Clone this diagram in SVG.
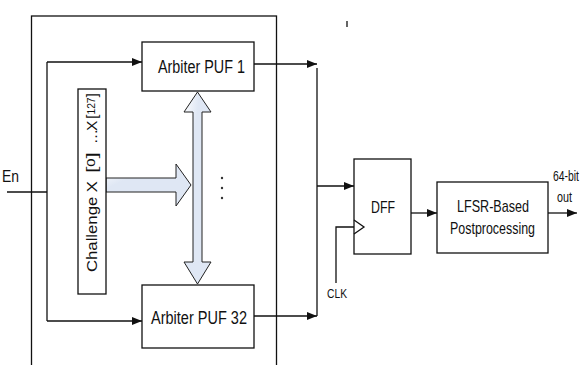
<svg xmlns="http://www.w3.org/2000/svg" width="587" height="365" viewBox="0 0 587 365">
<defs>
<style>
.box{fill:#fff;stroke:#111;stroke-width:1.3}
.ln{fill:none;stroke:#111;stroke-width:1.3}
.arr{marker-end:url(#ah)}
.t{font-family:"Liberation Sans",Arial,sans-serif;fill:#111}
.big{fill:url(#bg);stroke:#222;stroke-width:1}
</style>
<marker id="ah" markerUnits="userSpaceOnUse" markerWidth="11" markerHeight="9" refX="10" refY="4" orient="auto">
<path d="M0,0 L10,4 L0,8 z" fill="#111"/>
</marker>
<linearGradient id="bg" x1="0" y1="0" x2="1" y2="1">
<stop offset="0" stop-color="#ffffff"/>
<stop offset="0.3" stop-color="#dfe7f4"/>
<stop offset="1" stop-color="#dfe7f4"/>
</linearGradient>
</defs>
<rect x="31.5" y="16" width="245" height="360" style="fill:none;stroke:#111;stroke-width:1.3"/>
<g id="connectors">
<path class="ln" d="M7 192 H47"/>
<path class="ln" d="M47 62 V321"/>
<path class="ln arr" d="M47 62 H142"/>
<path class="ln arr" d="M47 321 H142"/>
<path class="ln arr" d="M254 64 H317"/>
<path class="ln" d="M317 68 V316"/>
<path class="ln arr" d="M254 316 H317"/>
<path class="ln arr" d="M317 186 H354"/>
<path class="ln" d="M336 283 V227 H354"/>
<path class="ln arr" d="M411 213 H437"/>
<path class="ln arr" d="M548 213 H577"/>
<path class="ln" d="M347 21 V27" stroke-width="1"/>
</g>
<g id="bus">
<path class="big" d="M106 178 H176 V164 L191 185 L176 206 V192 H106 Z"/>
<path class="big" d="M197.5 92 L211 112 H202 V262 H211 L197.5 284 L184 262 H193 V112 H184 Z"/>
<circle cx="222" cy="178" r="1.2" fill="#333"/>
<circle cx="222" cy="188" r="1.2" fill="#333"/>
<circle cx="222" cy="198" r="1.2" fill="#333"/>
</g>
<g id="challenge">
<rect x="78" y="89" width="28" height="205" class="box"/>
<g transform="translate(97,272) rotate(-90)">
<text class="t" x="0" y="0" font-size="15.5" textLength="91" lengthAdjust="spacingAndGlyphs">Challenge X</text>
<text class="t" x="99" y="0" font-size="15.5" textLength="21" lengthAdjust="spacingAndGlyphs">[<tspan font-size="10" dy="-2">0</tspan><tspan dy="2">]</tspan></text>
<text class="t" x="128" y="0" font-size="15">…</text>
<text class="t" x="141" y="0" font-size="15.5">X</text>
<text class="t" x="153" y="0" font-size="15.5" textLength="26" lengthAdjust="spacingAndGlyphs">[<tspan font-size="10" dy="-2">127</tspan><tspan dy="2">]</tspan></text>
</g>
</g>
<g id="puf1">
<rect x="142" y="42" width="112" height="49" class="box"/>
<text class="t" x="158" y="73" font-size="18" textLength="87" lengthAdjust="spacingAndGlyphs">Arbiter PUF 1</text>
</g>
<g id="puf32">
<rect x="142" y="285" width="112" height="63" class="box"/>
<text class="t" x="151" y="324" font-size="18" textLength="96" lengthAdjust="spacingAndGlyphs">Arbiter PUF 32</text>
</g>
<g id="en">
<text class="t" x="2" y="182" font-size="16" textLength="17" lengthAdjust="spacingAndGlyphs">En</text>
</g>
<g id="dff">
<rect x="354" y="159" width="57" height="95" class="box"/>
<path class="ln" d="M354 220 L364 227 L354 234" stroke-width="1"/>
<text class="t" x="371" y="213" font-size="17" textLength="24" lengthAdjust="spacingAndGlyphs">DFF</text>
</g>
<g id="clk">
<text class="t" x="327" y="298" font-size="13" textLength="20" lengthAdjust="spacingAndGlyphs">CLK</text>
</g>
<g id="lfsr">
<rect x="437" y="182" width="111" height="71" class="box"/>
<text class="t" x="457" y="212" font-size="17" textLength="72" lengthAdjust="spacingAndGlyphs">LFSR-Based</text>
<text class="t" x="450" y="234" font-size="17" textLength="85" lengthAdjust="spacingAndGlyphs">Postprocessing</text>
</g>
<g id="out">
<text class="t" x="553" y="181" font-size="15" textLength="26" lengthAdjust="spacingAndGlyphs">64-bit</text>
<text class="t" x="557" y="202" font-size="15" textLength="15" lengthAdjust="spacingAndGlyphs">out</text>
</g>
</svg>
